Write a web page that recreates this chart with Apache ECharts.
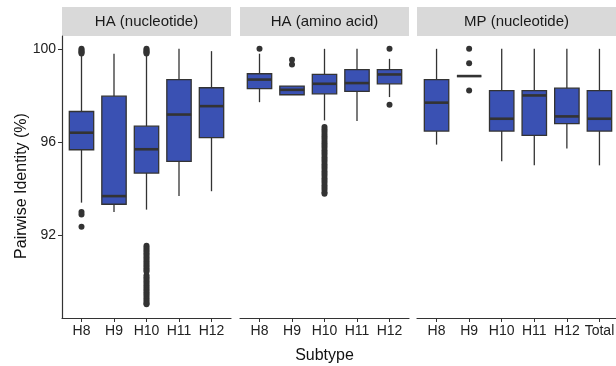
<!DOCTYPE html>
<html>
<head>
<meta charset="utf-8">
<script src="https://cdn.jsdelivr.net/npm/echarts@6/dist/echarts.min.js"></script>
<style>
  html, body { margin: 0; padding: 0; background: #fff; }
  #chart { width: 616px; height: 366px; }
</style>
</head>
<body>
<div id="chart"></div>
<script>
// facet titles and categories
var panelTitles = ['HA (nucleotide)', 'HA (amino acid)', 'MP (nucleotide)']
var haCats = ['H8', 'H9', 'H10', 'H11', 'H12']
var mpCats = ['H8', 'H9', 'H10', 'H11', 'H12', 'Total']
var yTicks = [92, 96, 100]

// box stats: [x, lowerWhisker, q1, median, q3, upperWhisker]
var haNucBoxes = [
  [0, 93.4, 95.67, 96.4, 97.31, 99.7],
  [1, 93.0, 93.33, 93.68, 97.97, 99.79],
  [2, 93.1, 94.67, 95.69, 96.68, 99.7],
  [3, 93.68, 95.17, 97.18, 98.68, 100],
  [4, 93.89, 96.19, 97.54, 98.33, 99.9]
]
var haAaBoxes = [
  [0, 97.71, 98.29, 98.68, 98.93, 99.79],
  [1, 98.03, 98.03, 98.24, 98.4, 98.4],
  [2, 96.93, 98.07, 98.5, 98.9, 100],
  [3, 96.9, 98.17, 98.53, 99.11, 100],
  [4, 97.93, 98.5, 98.9, 99.11, 99.57]
]
var mpBoxes = [
  [0, 95.89, 96.47, 97.69, 98.68, 100],
  [1, 98.83, 98.83, 98.83, 98.83, 98.83],
  [2, 95.18, 96.47, 97.0, 98.21, 100],
  [3, 95.0, 96.29, 98.0, 98.21, 100],
  [4, 95.72, 96.79, 97.1, 98.31, 100],
  [5, 95.0, 96.47, 97.0, 98.21, 100]
]

// outliers: [x, value]
var haNucOutliers = [
  [0, 100], [0, 99.95], [0, 99.9], [0, 99.85], [0, 99.8], [0, 93.0], [0, 92.89], [0, 92.36],
  [2, 100], [2, 99.95], [2, 99.9], [2, 99.85], [2, 99.8],
  [2, 91.55], [2, 91.47], [2, 91.39], [2, 91.31], [2, 91.23], [2, 91.15], [2, 91.07], [2, 90.99],
  [2, 90.91], [2, 90.83], [2, 90.75], [2, 90.67], [2, 90.59], [2, 90.51], [2, 90.45],
  [2, 90.28], [2, 90.2], [2, 90.12], [2, 90.04], [2, 89.96], [2, 89.88], [2, 89.8], [2, 89.72],
  [2, 89.64], [2, 89.56], [2, 89.48], [2, 89.4], [2, 89.32], [2, 89.24], [2, 89.16], [2, 89.08], [2, 89.04]
]
var haAaOutliers = [
  [0, 100], [1, 99.53], [1, 99.33], [4, 100], [4, 97.6],
  [2, 96.65], [2, 96.55], [2, 96.45], [2, 96.35], [2, 96.25], [2, 96.15], [2, 96.05], [2, 95.95],
  [2, 95.85], [2, 95.75], [2, 95.65], [2, 95.55], [2, 95.45], [2, 95.35], [2, 95.25], [2, 95.15],
  [2, 95.05], [2, 94.95], [2, 94.85], [2, 94.75], [2, 94.65], [2, 94.55], [2, 94.45], [2, 94.35],
  [2, 94.25], [2, 94.15], [2, 94.05], [2, 93.95], [2, 93.85], [2, 93.78]
]
var mpOutliers = [
  [1, 100], [1, 99.38], [1, 98.21]
]

var boxFill = '#3a51b3'
var ink = '#333333'
var panels = [
  { left: 62, width: 169, cats: haCats, boxes: haNucBoxes, outliers: haNucOutliers },
  { left: 240, width: 169, cats: haCats, boxes: haAaBoxes, outliers: haAaOutliers },
  { left: 417, width: 202, cats: mpCats, boxes: mpBoxes, outliers: mpOutliers }
]
var gridTop = 36
var gridHeight = 282

function renderBox(params, api) {
  var x = api.value(0)
  var lo = api.coord([x, api.value(1)])
  var q1 = api.coord([x, api.value(2)])
  var med = api.coord([x, api.value(3)])
  var q3 = api.coord([x, api.value(4)])
  var hi = api.coord([x, api.value(5)])
  var half = api.size([0.75, 0])[0] / 2
  return {
    type: 'group',
    children: [
      { type: 'line', shape: { x1: lo[0], y1: lo[1], x2: q1[0], y2: q1[1] }, style: { stroke: ink, lineWidth: 1.3 } },
      { type: 'line', shape: { x1: q3[0], y1: q3[1], x2: hi[0], y2: hi[1] }, style: { stroke: ink, lineWidth: 1.3 } },
      {
        type: 'rect',
        shape: { x: q3[0] - half, y: q3[1], width: half * 2, height: q1[1] - q3[1] },
        style: { fill: boxFill, stroke: ink, lineWidth: 1.3 }
      },
      { type: 'line', shape: { x1: med[0] - half, y1: med[1], x2: med[0] + half, y2: med[1] }, style: { stroke: ink, lineWidth: 2.6 } }
    ]
  }
}

var grids = []
var xAxes = []
var yAxes = []
var series = []
var graphics = []

panels.forEach(function (p, i) {
  grids.push({ left: p.left, top: gridTop, width: p.width, height: gridHeight, containLabel: false, outerBoundsMode: 'none' })
  var idx = p.cats.map(function (c, k) { return k })
  xAxes.push({
    type: 'value',
    gridIndex: i,
    min: -0.6,
    max: p.cats.length - 0.4,
    name: i === 1 ? 'Subtype' : '',
    nameLocation: 'middle',
    nameGap: 30,
    nameTextStyle: { fontSize: 16, color: '#111', fontFamily: 'Liberation Sans' },
    splitLine: { show: false },
    axisLine: { show: true, onZero: false, lineStyle: { color: ink, width: 1.2 } },
    axisTick: { show: true, length: 4, customValues: idx, lineStyle: { color: ink } },
    axisLabel: {
      customValues: idx,
      formatter: function (v) { return p.cats[Math.round(v)] },
      fontSize: 14,
      color: '#222',
      margin: 6,
      fontFamily: 'Liberation Sans'
    }
  })
  yAxes.push({
    type: 'value',
    gridIndex: i,
    min: 88.45,
    max: 100.55,
    splitLine: { show: false },
    axisLine: { show: i === 0, onZero: false, lineStyle: { color: ink, width: 1.2 } },
    axisTick: { show: i === 0, length: 4, customValues: yTicks, lineStyle: { color: ink } },
    axisLabel: {
      show: i === 0,
      customValues: yTicks,
      fontSize: 14,
      color: '#222',
      margin: 6,
      fontFamily: 'Liberation Sans'
    }
  })
  series.push({
    type: 'custom',
    xAxisIndex: i,
    yAxisIndex: i,
    renderItem: renderBox,
    encode: { x: 0, y: [1, 2, 3, 4, 5] },
    data: p.boxes,
    silent: true
  })
  series.push({
    type: 'scatter',
    xAxisIndex: i,
    yAxisIndex: i,
    symbolSize: 6,
    itemStyle: { color: ink, opacity: 1 },
    data: p.outliers,
    silent: true
  })
  // facet strip
  graphics.push({
    type: 'rect',
    shape: { x: p.left, y: 7, width: p.width, height: 29 },
    style: { fill: '#d9d9d9' }
  })
  graphics.push({
    type: 'text',
    x: p.left + Math.min(p.width, 616 - p.left) / 2,
    y: 21.5,
    style: {
      text: panelTitles[i],
      font: '15px "Liberation Sans"',
      fill: '#1a1a1a',
      align: 'center',
      verticalAlign: 'middle'
    }
  })
})

graphics.push({
  type: 'text',
  x: 22,
  y: 186,
  rotation: Math.PI / 2,
  style: {
    text: 'Pairwise Identity (%)',
    font: '16px "Liberation Sans"',
    fill: '#111',
    align: 'center',
    verticalAlign: 'middle'
  }
})

var myChart = echarts.init(document.getElementById('chart'))
var option = {
  animation: false,
  backgroundColor: '#ffffff',
  grid: grids,
  xAxis: xAxes,
  yAxis: yAxes,
  series: series,
  graphic: graphics
}
myChart.setOption(option)
</script>
</body>
</html>
